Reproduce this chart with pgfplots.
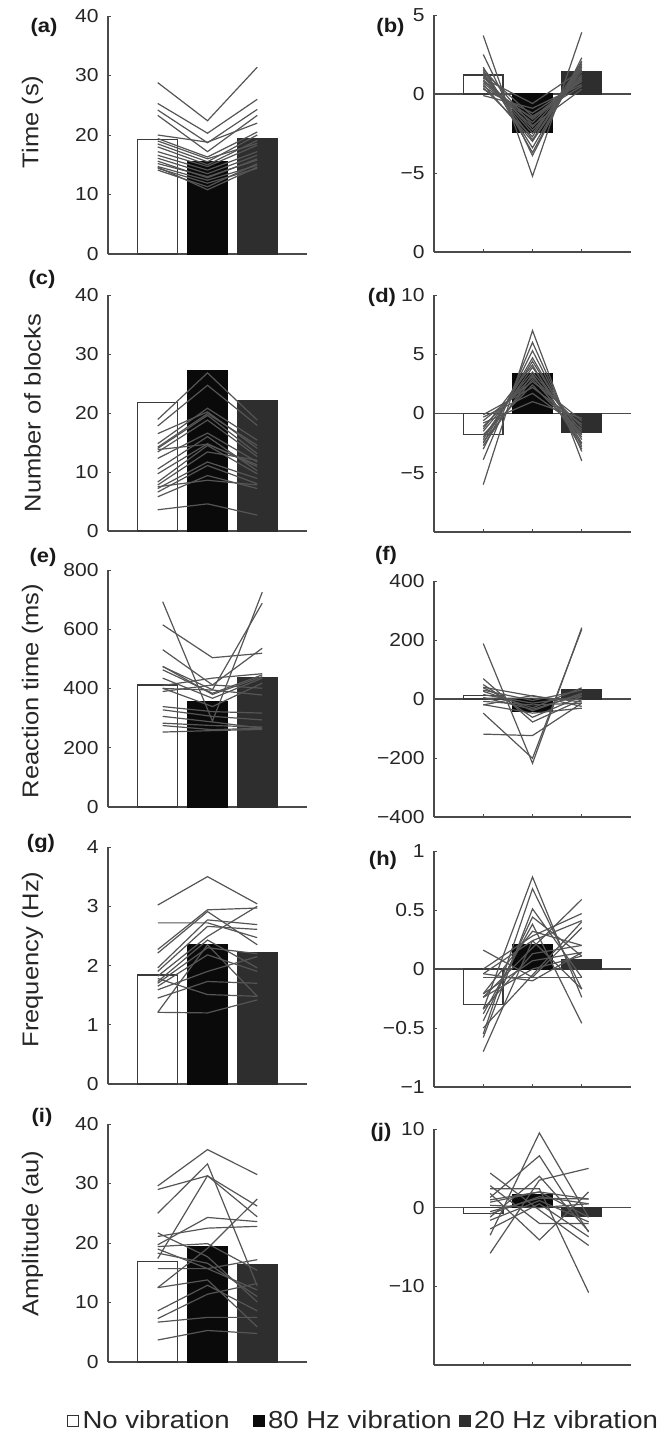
\documentclass[border=0pt]{standalone}
\usepackage{fontspec}
\setmainfont{Liberation Sans}[FakeStretch=1.12]
\usepackage{pgfplots}
\pgfplotsset{compat=1.18}
\definecolor{axisgray}{HTML}{4A4A4A}
\definecolor{subjgray}{HTML}{555555}
\definecolor{barblack}{HTML}{0A0A0A}
\definecolor{bardark}{HTML}{2E2E2E}
\definecolor{baredge}{HTML}{3A3A3A}
\newcommand\tickfont{\fontsize{9.4}{11}\selectfont}
\newcommand\labfont{\fontsize{11.4}{13}\selectfont}
\newcommand\legfont{\fontsize{12.3}{14}\selectfont}
\newcommand\panfont{\fontsize{9.8}{11}\selectfont\bfseries}
\pgfplotsset{
  panel/.style={
    scale only axis,
    axis x line*=bottom, axis y line*=left,
    axis line style={draw=axisgray, line width=0.6pt},
    xmin=0, xmax=4,
    tick align=inside,
    major tick length=1.6pt,
    tick style={draw=axisgray, line width=0.5pt},
    yticklabel style={font=\tickfont, text=black!85, xshift=-1.2pt},
    every axis y label/.style={at={(axis description cs:-0.38,0.5)}, rotate=90, anchor=center, font=\labfont, text=black!85},
  },
  leftpanel/.style={panel, width=99.5pt, xtick=\empty},
  rightpanel/.style={panel, width=98.5pt, xtick={1,2,3}, xticklabels={}},
  subj/.style={draw=subjgray, line width=0.6pt, forget plot},
  barW/.style={ybar, bar width=0.8, fill=white, draw=baredge, line width=0.6pt, forget plot},
  barB/.style={ybar, bar width=0.8, fill=barblack, draw=barblack, line width=0.6pt, forget plot},
  barD/.style={ybar, bar width=0.8, fill=bardark, draw=bardark, line width=0.6pt, forget plot},
  zeroline/.style={draw=axisgray, line width=0.6pt, forget plot},
}
\begin{document}
\begin{tikzpicture}
\path[use as bounding box] (0pt,0pt) rectangle (335pt,-717.5pt);
% ---------------- (a)
\begin{axis}[leftpanel, at={(54pt,-127pt)}, anchor=south west, height=119pt,
  ymin=0, ymax=40, ytick={0,10,20,30,40}, yticklabels={0,10,20,30,40},
  ylabel={Time (s)}, ylabel style={at={(axis description cs:-0.38,0.555)}}]
\addplot[barW] coordinates {(1,19.2)};
\addplot[barB] coordinates {(2,15.5)};
\addplot[barD] coordinates {(3,19.4)};
\addplot[subj] coordinates {(1,28.8) (2,22.4) (3,31.4)};
\addplot[subj] coordinates {(1,25.3) (2,20.3) (3,26.0)};
\addplot[subj] coordinates {(1,24.2) (2,18.7) (3,24.3)};
\addplot[subj] coordinates {(1,23.3) (2,17.2) (3,23.3)};
\addplot[subj] coordinates {(1,20.0) (2,18.8) (3,22.0)};
\addplot[subj] coordinates {(1,19.4) (2,16.3) (3,20.5)};
\addplot[subj] coordinates {(1,18.5) (2,15.5) (3,20.0)};
\addplot[subj] coordinates {(1,18.0) (2,15.0) (3,19.1)};
\addplot[subj] coordinates {(1,17.2) (2,14.7) (3,18.3)};
\addplot[subj] coordinates {(1,16.6) (2,14.1) (3,17.2)};
\addplot[subj] coordinates {(1,16.1) (2,13.5) (3,16.6)};
\addplot[subj] coordinates {(1,15.2) (2,13.0) (3,15.8)};
\addplot[subj] coordinates {(1,14.7) (2,12.4) (3,14.9)};
\addplot[subj] coordinates {(1,14.4) (2,11.9) (3,14.4)};
\addplot[subj] coordinates {(1,14.1) (2,11.3) (3,15.2)};
\addplot[subj] coordinates {(1,14.6) (2,10.8) (3,14.6)};
\addplot[subj] coordinates {(1,19.0) (2,16.0) (3,18.6)};
\addplot[subj] coordinates {(1,15.6) (2,12.8) (3,16.0)};
\end{axis}
% ---------------- (b)
\begin{axis}[rightpanel, at={(217pt,-126pt)}, anchor=south west, height=118.5pt,
  ymin=-10, ymax=5, ytick={-10,-5,0,5}, yticklabels={0,−5,0,5}]
\addplot[zeroline] coordinates {(0,0) (4,0)};
\addplot[barW] coordinates {(1,1.2)};
\addplot[barB] coordinates {(2,-2.45)};
\addplot[barD] coordinates {(3,1.4)};
\addplot[subj] coordinates {(1,3.7) (2,-5.2) (3,3.9)};
\addplot[subj] coordinates {(1,2.5) (2,-3.9) (3,2.3)};
\addplot[subj] coordinates {(1,1.7) (2,-3.7) (3,2.1)};
\addplot[subj] coordinates {(1,1.5) (2,-3.4) (3,1.9)};
\addplot[subj] coordinates {(1,1.3) (2,-2.9) (3,1.8)};
\addplot[subj] coordinates {(1,1.1) (2,-2.5) (3,1.6)};
\addplot[subj] coordinates {(1,0.9) (2,-2.1) (3,1.4)};
\addplot[subj] coordinates {(1,0.7) (2,-1.8) (3,1.2)};
\addplot[subj] coordinates {(1,0.5) (2,-1.5) (3,1.0)};
\addplot[subj] coordinates {(1,0.3) (2,-1.2) (3,0.8)};
\addplot[subj] coordinates {(1,-0.1) (2,-0.9) (3,0.6)};
\addplot[subj] coordinates {(1,1.6) (2,-2.0) (3,0.3)};
\addplot[subj] coordinates {(1,1.2) (2,-2.3) (3,1.1)};
\addplot[subj] coordinates {(1,0.8) (2,-1.6) (3,0.9)};
\addplot[subj] coordinates {(1,1.0) (2,-0.6) (3,1.5)};
\addplot[subj] coordinates {(1,0.4) (2,-2.7) (3,2.0)};
\addplot[subj] coordinates {(1,1.4) (2,-1.4) (3,0.5)};
\addplot[subj] coordinates {(1,0.6) (2,-3.0) (3,1.7)};
\end{axis}
% ---------------- (c)
\begin{axis}[leftpanel, at={(54pt,-265.5pt)}, anchor=south west, height=118pt,
  ymin=0, ymax=40, ytick={0,10,20,30,40}, yticklabels={0,10,20,30,40},
  ylabel={Number of blocks}]
\addplot[barW] coordinates {(1,21.8)};
\addplot[barB] coordinates {(2,27.2)};
\addplot[barD] coordinates {(3,22.1)};
\addplot[subj] coordinates {(1,18.9) (2,26.8) (3,18.8)};
\addplot[subj] coordinates {(1,17.8) (2,24.7) (3,17.9)};
\addplot[subj] coordinates {(1,14.8) (2,20.8) (3,15.4)};
\addplot[subj] coordinates {(1,16.5) (2,20.2) (3,14.0)};
\addplot[subj] coordinates {(1,14.0) (2,19.6) (3,13.1)};
\addplot[subj] coordinates {(1,13.4) (2,18.8) (3,12.6)};
\addplot[subj] coordinates {(1,12.3) (2,16.6) (3,11.7)};
\addplot[subj] coordinates {(1,9.7) (2,14.8) (3,10.9)};
\addplot[subj] coordinates {(1,8.3) (2,14.5) (3,9.7)};
\addplot[subj] coordinates {(1,7.8) (2,13.4) (3,12.0)};
\addplot[subj] coordinates {(1,7.2) (2,11.7) (3,8.9)};
\addplot[subj] coordinates {(1,6.6) (2,11.1) (3,8.0)};
\addplot[subj] coordinates {(1,5.8) (2,9.4) (3,7.2)};
\addplot[subj] coordinates {(1,7.5) (2,8.6) (3,7.8)};
\addplot[subj] coordinates {(1,3.6) (2,4.6) (3,2.7)};
\addplot[subj] coordinates {(1,14.2) (2,19.9) (3,14.5)};
\addplot[subj] coordinates {(1,10.5) (2,16.0) (3,10.2)};
\addplot[subj] coordinates {(1,13.8) (2,14.7) (3,11.2)};
\end{axis}
% ---------------- (d)
\begin{axis}[rightpanel, at={(217pt,-266pt)}, anchor=south west, height=118.5pt,
  ymin=-10, ymax=10, ytick={-5,0,5,10}, yticklabels={−5,0,5,10}]
\addplot[zeroline] coordinates {(0,0) (4,0)};
\addplot[barW] coordinates {(1,-1.8)};
\addplot[barB] coordinates {(2,3.4)};
\addplot[barD] coordinates {(3,-1.6)};
\addplot[subj] coordinates {(1,-6.0) (2,7.0) (3,-4.0)};
\addplot[subj] coordinates {(1,-3.9) (2,6.0) (3,-3.2)};
\addplot[subj] coordinates {(1,-3.0) (2,5.3) (3,-2.8)};
\addplot[subj] coordinates {(1,-2.5) (2,4.7) (3,-2.5)};
\addplot[subj] coordinates {(1,-2.2) (2,4.4) (3,-2.2)};
\addplot[subj] coordinates {(1,-2.0) (2,3.9) (3,-2.0)};
\addplot[subj] coordinates {(1,-1.5) (2,3.5) (3,-1.5)};
\addplot[subj] coordinates {(1,-1.1) (2,3.1) (3,-1.1)};
\addplot[subj] coordinates {(1,-0.6) (2,2.7) (3,-0.6)};
\addplot[subj] coordinates {(1,-0.1) (2,2.2) (3,-0.9)};
\addplot[subj] coordinates {(1,-0.3) (2,1.7) (3,-1.3)};
\addplot[subj] coordinates {(1,-0.8) (2,1.0) (3,-0.4)};
\addplot[subj] coordinates {(1,-1.8) (2,2.4) (3,-1.8)};
\addplot[subj] coordinates {(1,-2.7) (2,3.3) (3,-2.6)};
\addplot[subj] coordinates {(1,-1.3) (2,4.1) (3,-3.0)};
\addplot[subj] coordinates {(1,-2.4) (2,2.9) (3,-1.7)};
\end{axis}
% ---------------- (e)
\begin{axis}[leftpanel, at={(54pt,-403.5pt)}, anchor=south west, height=118.5pt,
  ymin=0, ymax=800, ytick={0,200,400,600,800}, yticklabels={0,200,400,600,800},
  ylabel={Reaction time (ms)}, ylabel style={at={(axis description cs:-0.38,0.49)}}]
\addplot[barW] coordinates {(1,412)};
\addplot[barB] coordinates {(2,356)};
\addplot[barD] coordinates {(3,437)};
\addplot[subj] coordinates {(1.1,693) (2.1,290) (3.1,725)};
\addplot[subj] coordinates {(1.1,615) (2.1,504) (3.1,519)};
\addplot[subj] coordinates {(1.1,531) (2.1,412) (3.1,536)};
\addplot[subj] coordinates {(1.1,474) (2.1,396) (3.1,688)};
\addplot[subj] coordinates {(1.1,463) (2.1,384) (3.1,446)};
\addplot[subj] coordinates {(1.1,435) (2.1,367) (3.1,435)};
\addplot[subj] coordinates {(1.1,401) (2.1,339) (3.1,418)};
\addplot[subj] coordinates {(1.1,390) (2.1,412) (3.1,401)};
\addplot[subj] coordinates {(1.1,339) (2.1,322) (3.1,317)};
\addplot[subj] coordinates {(1.1,328) (2.1,306) (3.1,294)};
\addplot[subj] coordinates {(1.1,306) (2.1,287) (3.1,266)};
\addplot[subj] coordinates {(1.1,283) (2.1,275) (3.1,270)};
\addplot[subj] coordinates {(1.1,275) (2.1,261) (3.1,266)};
\addplot[subj] coordinates {(1.1,253) (2.1,258) (3.1,262)};
\addplot[subj] coordinates {(1.1,410) (2.1,435) (3.1,450)};
\addplot[subj] coordinates {(1.1,400) (2.1,395) (3.1,378)};
\addplot[subj] coordinates {(1.1,475) (2.1,380) (3.1,440)};
\end{axis}
% ---------------- (f)
\begin{axis}[rightpanel, at={(217pt,-408.5pt)}, anchor=south west, height=118pt,
  ymin=-400, ymax=400, ytick={-400,-200,0,200,400}, yticklabels={−400,−200,0,200,400}]
\addplot[zeroline] coordinates {(0,0) (4,0)};
\addplot[barW] coordinates {(1,12)};
\addplot[barB] coordinates {(2,-42)};
\addplot[barD] coordinates {(3,33)};
\addplot[subj] coordinates {(1,188) (2,-218) (3,242)};
\addplot[subj] coordinates {(1,-48) (2,-201) (3,236)};
\addplot[subj] coordinates {(1,-119) (2,-124) (3,-14)};
\addplot[subj] coordinates {(1,69) (2,-78) (3,-2)};
\addplot[subj] coordinates {(1,49) (2,-62) (3,9)};
\addplot[subj] coordinates {(1,38) (2,-40) (3,20)};
\addplot[subj] coordinates {(1,26) (2,-30) (3,38)};
\addplot[subj] coordinates {(1,15) (2,-14) (3,9)};
\addplot[subj] coordinates {(1,3) (2,3) (3,-2)};
\addplot[subj] coordinates {(1,-8) (2,-20) (3,-14)};
\addplot[subj] coordinates {(1,-19) (2,-48) (3,-31)};
\addplot[subj] coordinates {(1,40) (2,10) (3,-10)};
\addplot[subj] coordinates {(1,5) (2,-35) (3,15)};
\addplot[subj] coordinates {(1,-20) (2,12) (3,-25)};
\addplot[subj] coordinates {(1,30) (2,-5) (3,30)};
\end{axis}
% ---------------- (g)
\begin{axis}[leftpanel, at={(54pt,-542pt)}, anchor=south west, height=118.5pt,
  ymin=0, ymax=4, ytick={0,1,2,3,4}, yticklabels={0,1,2,3,4},
  ylabel={Frequency (Hz)}, ylabel style={at={(axis description cs:-0.38,0.525)}}]
\addplot[barW] coordinates {(1,1.84)};
\addplot[barB] coordinates {(2,2.36)};
\addplot[barD] coordinates {(3,2.22)};
\addplot[subj] coordinates {(1,3.02) (2,3.50) (3,3.04)};
\addplot[subj] coordinates {(1,2.72) (2,2.72) (3,2.47)};
\addplot[subj] coordinates {(1,2.27) (2,2.94) (3,2.97)};
\addplot[subj] coordinates {(1,2.21) (2,2.91) (3,2.35)};
\addplot[subj] coordinates {(1,1.96) (2,2.77) (3,2.69)};
\addplot[subj] coordinates {(1,1.90) (2,2.66) (3,2.61)};
\addplot[subj] coordinates {(1,1.82) (2,2.49) (3,3.00)};
\addplot[subj] coordinates {(1,1.73) (2,2.43) (3,1.96)};
\addplot[subj] coordinates {(1,1.65) (2,2.18) (3,1.90)};
\addplot[subj] coordinates {(1,1.59) (2,1.90) (3,2.15)};
\addplot[subj] coordinates {(1,1.45) (2,1.73) (3,1.70)};
\addplot[subj] coordinates {(1,1.21) (2,1.20) (3,1.42)};
\addplot[subj] coordinates {(1,1.21) (2,2.35) (3,1.48)};
\addplot[subj] coordinates {(1,1.78) (2,1.51) (3,1.48)};
\addplot[subj] coordinates {(1,1.70) (2,2.30) (3,2.20)};
\end{axis}
% ---------------- (h)
\begin{axis}[rightpanel, at={(217pt,-543.5pt)}, anchor=south west, height=118pt,
  ymin=-1, ymax=1, ytick={-1,-0.5,0,0.5,1}, yticklabels={−1,−0.5,0,0.5,1}]
\addplot[zeroline] coordinates {(0,0) (4,0)};
\addplot[barW] coordinates {(1,-0.30)};
\addplot[barB] coordinates {(2,0.21)};
\addplot[barD] coordinates {(3,0.08)};
\addplot[subj] coordinates {(1,-0.34) (2,0.78) (3,-0.24)};
\addplot[subj] coordinates {(1,-0.55) (2,0.68) (3,-0.17)};
\addplot[subj] coordinates {(1,-0.58) (2,0.51) (3,-0.07)};
\addplot[subj] coordinates {(1,-0.44) (2,0.44) (3,0.11)};
\addplot[subj] coordinates {(1,-0.38) (2,0.38) (3,-0.46)};
\addplot[subj] coordinates {(1,-0.21) (2,0.32) (3,0.20)};
\addplot[subj] coordinates {(1,-0.70) (2,0.24) (3,0.41)};
\addplot[subj] coordinates {(1,0.16) (2,-0.07) (3,0.35)};
\addplot[subj] coordinates {(1,0.00) (2,0.28) (3,0.47)};
\addplot[subj] coordinates {(1,-0.04) (2,-0.10) (3,0.14)};
\addplot[subj] coordinates {(1,-0.07) (2,-0.07) (3,-0.07)};
\addplot[subj] coordinates {(1,-0.24) (2,0.18) (3,0.59)};
\addplot[subj] coordinates {(1,-0.34) (2,0.13) (3,0.20)};
\addplot[subj] coordinates {(1,-0.21) (2,0.07) (3,0.14)};
\addplot[subj] coordinates {(1,-0.04) (2,0.24) (3,-0.17)};
\addplot[subj] coordinates {(1,-0.50) (2,-0.05) (3,0.40)};
\addplot[subj] coordinates {(1,-0.24) (2,0.00) (3,0.11)};
\end{axis}
% ---------------- (i)
\begin{axis}[leftpanel, at={(54pt,-681pt)}, anchor=south west, height=119pt,
  ymin=0, ymax=40, ytick={0,10,20,30,40}, yticklabels={0,10,20,30,40},
  ylabel={Amplitude (au)}, ylabel style={at={(axis description cs:-0.38,0.54)}},
  legend image code/.code={\draw[#1, line width=0.5pt] (0pt,-2.75pt) rectangle (5.5pt,2.75pt);},
  legend columns=3,
  legend style={at={(axis description cs:-0.206,-0.248)}, anchor=west, draw=none, fill=none,
    inner sep=0pt, font=\legfont, text=black!85, nodes={inner sep=1.6pt},
    /tikz/column 2/.style={column sep=10pt},
    /tikz/column 4/.style={column sep=2pt}},
  legend cell align=left]
\addlegendimage{fill=white, draw=black!80}
\addlegendentry{No vibration}
\addlegendimage{fill=barblack, draw=barblack}
\addlegendentry{80 Hz vibration}
\addlegendimage{fill=bardark, draw=bardark}
\addlegendentry{20 Hz vibration}
\addplot[barW] coordinates {(1,16.9)};
\addplot[barB] coordinates {(2,19.4)};
\addplot[barD] coordinates {(3,16.3)};
\addplot[subj] coordinates {(1,29.6) (2,35.7) (3,31.5)};
\addplot[subj] coordinates {(1,29.0) (2,31.3) (3,26.2)};
\addplot[subj] coordinates {(1,25.0) (2,33.3) (3,12.8)};
\addplot[subj] coordinates {(1,21.7) (2,17.7) (3,10.1)};
\addplot[subj] coordinates {(1,21.1) (2,22.5) (3,22.8)};
\addplot[subj] coordinates {(1,19.7) (2,24.3) (3,23.6)};
\addplot[subj] coordinates {(1,19.4) (2,19.9) (3,15.4)};
\addplot[subj] coordinates {(1,18.3) (2,16.6) (3,11.0)};
\addplot[subj] coordinates {(1,17.4) (2,31.3) (3,24.4)};
\addplot[subj] coordinates {(1,15.7) (2,15.7) (3,17.2)};
\addplot[subj] coordinates {(1,12.5) (2,19.1) (3,27.4)};
\addplot[subj] coordinates {(1,8.6) (2,12.9) (3,8.6)};
\addplot[subj] coordinates {(1,7.3) (2,11.4) (3,13.2)};
\addplot[subj] coordinates {(1,6.7) (2,7.5) (3,7.5)};
\addplot[subj] coordinates {(1,3.7) (2,5.3) (3,4.8)};
\addplot[subj] coordinates {(1,12.5) (2,13.8) (3,5.9)};
\addplot[subj] coordinates {(1,19.0) (2,15.7) (3,12.1)};
\end{axis}
% ---------------- (j)
\begin{axis}[rightpanel, at={(217pt,-682.5pt)}, anchor=south west, height=118pt,
  ymin=-20, ymax=10, ytick={-10,0,10}, yticklabels={−10,0,10}]
\addplot[zeroline] coordinates {(0,0) (4,0)};
\addplot[barW] coordinates {(1,-0.7)};
\addplot[barB] coordinates {(2,1.6)};
\addplot[barD] coordinates {(3,-1.1)};
\addplot[subj] coordinates {(1.14,-3.5) (2.14,9.5) (3.14,-1.2)};
\addplot[subj] coordinates {(1.14,1.3) (2.14,6.6) (3.14,-3.1)};
\addplot[subj] coordinates {(1.14,2.4) (2.14,2.4) (3.14,-10.8)};
\addplot[subj] coordinates {(1.14,4.4) (2.14,-0.3) (3.14,-4.8)};
\addplot[subj] coordinates {(1.14,-5.8) (2.14,3.5) (3.14,5.0)};
\addplot[subj] coordinates {(1.14,1.8) (2.14,-4.1) (3.14,2.0)};
\addplot[subj] coordinates {(1.14,0.7) (2.14,2.0) (3.14,1.1)};
\addplot[subj] coordinates {(1.14,-0.8) (2.14,1.4) (3.14,0.5)};
\addplot[subj] coordinates {(1.14,-1.6) (2.14,0.9) (3.14,-1.8)};
\addplot[subj] coordinates {(1.14,-2.7) (2.14,0.5) (3.14,-3.7)};
\addplot[subj] coordinates {(1.14,2.8) (2.14,-2.0) (3.14,-2.0)};
\addplot[subj] coordinates {(1.14,-0.5) (2.14,1.2) (3.14,1.1)};
\addplot[subj] coordinates {(1.14,1.0) (2.14,2.0) (3.14,-1.2)};
\addplot[subj] coordinates {(1.14,-1.2) (2.14,4.0) (3.14,-3.0)};
\addplot[subj] coordinates {(1.14,0.3) (2.14,0.0) (3.14,0.5)};
\end{axis}
% panel letters
\node[font=\panfont, text=black!90] at (22pt,-13.5pt) {(a)};
\node[font=\panfont, text=black!90] at (195.25pt,-13.5pt) {(b)};
\node[font=\panfont, text=black!90] at (21pt,-139.5pt) {(c)};
\node[font=\panfont, text=black!90] at (191pt,-148.5pt) {(d)};
\node[font=\panfont, text=black!90] at (21.5pt,-278.5pt) {(e)};
\node[font=\panfont, text=black!90] at (193pt,-277.5pt) {(f)};
\node[font=\panfont, text=black!90] at (20.5pt,-421.5pt) {(g)};
\node[font=\panfont, text=black!90] at (191.5pt,-430pt) {(h)};
\node[font=\panfont, text=black!90] at (21pt,-558.5pt) {(i)};
\node[font=\panfont, text=black!90] at (190.5pt,-566pt) {(j)};
\end{tikzpicture}
\end{document}
